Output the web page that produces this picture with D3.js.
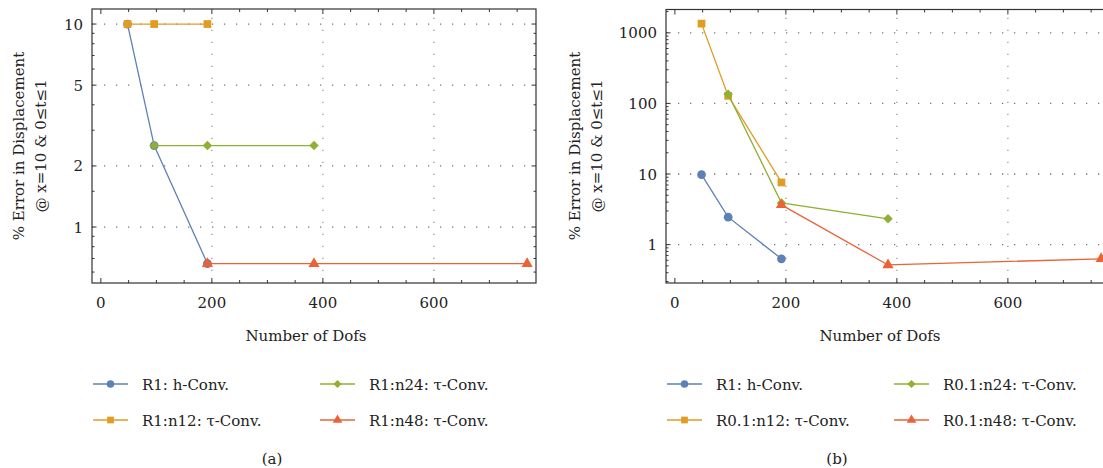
<!DOCTYPE html>
<html>
<head>
<meta charset="utf-8">
<script src="https://cdn.jsdelivr.net/npm/d3@7"></script>
<style>
  body { margin: 0; background: #fff; }
</style>
</head>
<body>
<div id="chart"></div>
<script>
// data
var dofsMajor = [0, 200, 400, 600];
var dofsMinor = d3.range(0, 800, 50);

var colors = ["#5E81B5", "#E19C24", "#8FB032", "#EB6235"];
var shapes = ["circle", "square", "diamond", "triangle"];

// panel (a)
var aHConvX = [48, 96, 192],  aHConvY = [10, 2.52, 0.66];
var aN12X   = [48, 96, 192],  aN12Y   = [10, 10, 10];
var aN24X   = [96, 192, 384], aN24Y   = [2.52, 2.52, 2.52];
var aN48X   = [192, 384, 768], aN48Y  = [0.66, 0.66, 0.66];
var aLegend = ["R1: h-Conv.", "R1:n12: \u03c4-Conv.", "R1:n24: \u03c4-Conv.", "R1:n48: \u03c4-Conv."];
var aYMajor = [1, 2, 5, 10];
var aYMinor = [0.6, 0.7, 0.8, 0.9, 1.5, 3, 4, 6, 7, 8, 9];

// panel (b)
var bHConvX = [48, 96, 192],  bHConvY = [9.8, 2.45, 0.63];
var bN12X   = [48, 96, 192],  bN12Y   = [1350, 128, 7.6];
var bN24X   = [96, 192, 384], bN24Y   = [135, 3.9, 2.32];
var bN48X   = [192, 384, 768], bN48Y  = [3.66, 0.515, 0.63];
var bLegend = ["R1: h-Conv.", "R0.1:n12: \u03c4-Conv.", "R0.1:n24: \u03c4-Conv.", "R0.1:n48: \u03c4-Conv."];
var bYMajor = [1, 10, 100, 1000];
var bYMinor = [];
[0.1, 1, 10, 100, 1000].forEach(function(d) {
  d3.range(2, 10).forEach(function(k) { bYMinor.push(d * k); });
});

var FONT = "DejaVu Serif";
var FS = 15;

var svg = d3.select("#chart").append("svg")
  .attr("width", 1103)
  .attr("height", 468)
  .style("font-family", FONT);

function zip(xs, ys) { return xs.map(function(v, i) { return {x: v, y: ys[i]}; }); }

function marker(shape, size) {
  if (shape == "circle") return d3.symbol().type(d3.symbolCircle).size(size)();
  if (shape == "square") return d3.symbol().type(d3.symbolSquare).size(size)();
  if (shape == "diamond") return d3.symbol().type(d3.symbolSquare).size(size * 0.75)();
  return d3.symbol().type(d3.symbolTriangle).size(size * 0.9)();
}

function label(sel) {
  return sel.style("font-family", FONT).attr("fill", "#222");
}

function drawPanel(opt) {
  var g = svg.append("g");
  var x = d3.scaleLinear().domain([-16, 784]).range([opt.left, opt.left + 444]);
  var y = d3.scaleLog().domain(opt.yDomain).range([283, opt.top]);
  var x0 = x.range()[0], x1 = x.range()[1];
  var y0 = 283, y1 = opt.top;

  // dotted grid
  g.append("g").selectAll("line").data(dofsMajor.filter(function(d) { return d > 0; }))
    .enter().append("line")
    .attr("x1", function(d) { return x(d); }).attr("x2", function(d) { return x(d); })
    .attr("y1", y0).attr("y2", y1)
    .attr("stroke", "#999").attr("stroke-width", 1.3)
    .attr("stroke-dasharray", "1.3,10.7");
  g.append("g").selectAll("line").data(opt.yMajor)
    .enter().append("line")
    .attr("x1", x0).attr("x2", x1)
    .attr("y1", function(d) { return y(d); }).attr("y2", function(d) { return y(d); })
    .attr("stroke", "#777").attr("stroke-width", 1.3)
    .attr("stroke-dasharray", "1.3,10.7");

  // frame
  g.append("rect")
    .attr("x", x0).attr("y", y1)
    .attr("width", x1 - x0).attr("height", y0 - y1)
    .attr("fill", "none").attr("stroke", "#333").attr("stroke-width", 1.2);

  // ticks, all pointing inward
  function ticksX(vals, len) {
    [y0, y1].forEach(function(yy, k) {
      g.append("g").selectAll("line").data(vals).enter().append("line")
        .attr("x1", function(d) { return x(d); }).attr("x2", function(d) { return x(d); })
        .attr("y1", yy).attr("y2", k == 0 ? yy - len : yy + len)
        .attr("stroke", "#333").attr("stroke-width", 1);
    });
  }
  function ticksY(vals, len) {
    [x0, x1].forEach(function(xx, k) {
      g.append("g").selectAll("line").data(vals.filter(function(d) {
          return d >= opt.yDomain[0] && d <= opt.yDomain[1]; }))
        .enter().append("line")
        .attr("y1", function(d) { return y(d); }).attr("y2", function(d) { return y(d); })
        .attr("x1", xx).attr("x2", k == 0 ? xx + len : xx - len)
        .attr("stroke", "#333").attr("stroke-width", 1);
    });
  }
  ticksX(dofsMinor.filter(function(d) { return d % 200 != 0; }), 3);
  ticksX(dofsMajor, 5);
  ticksY(opt.yMinor, 2.5);
  ticksY(opt.yMajor, 4.5);

  // tick labels
  label(g.append("g").selectAll("text").data(dofsMajor).enter().append("text"))
    .attr("x", function(d) { return x(d); }).attr("y", 308)
    .attr("text-anchor", "middle").attr("font-size", FS)
    .text(function(d) { return d; });
  label(g.append("g").selectAll("text").data(opt.yMajor).enter().append("text"))
    .attr("x", opt.left - 9).attr("y", function(d) { return y(d) + 5.5; })
    .attr("text-anchor", "end").attr("font-size", FS)
    .text(function(d) { return d; });

  // axis titles
  label(g.append("text"))
    .attr("x", (x0 + x1) / 2 - 8).attr("y", 341)
    .attr("text-anchor", "middle").attr("font-size", FS)
    .text("Number of Dofs");
  var yt = label(g.append("text"))
    .attr("transform", "translate(" + opt.yTitleX + "," + 146 + ") rotate(-90)")
    .attr("text-anchor", "middle").attr("font-size", FS);
  yt.append("tspan").attr("x", 0).attr("dy", 0).text("% Error in Displacement");
  yt.append("tspan").attr("x", 0).attr("dy", 22).text("@ x=10 & 0\u2264t\u22641");

  // series
  var line = d3.line().x(function(d) { return x(d.x); }).y(function(d) { return y(d.y); });
  opt.series.forEach(function(s, i) {
    var pts = zip(s[0], s[1]);
    g.append("path").datum(pts)
      .attr("d", line).attr("fill", "none")
      .attr("stroke", colors[i]).attr("stroke-width", 1.3);
    g.append("g").selectAll("path").data(pts).enter().append("path")
      .attr("transform", function(d) {
        return "translate(" + x(d.x) + "," + y(d.y) + ")" + (shapes[i] == "diamond" ? " rotate(45)" : "");
      })
      .attr("d", marker(shapes[i], 60))
      .attr("fill", colors[i]);
  });

  // legend, two columns
  var lx = [opt.left + 1, opt.left + 228];
  var ly = [384, 420];
  opt.legend.forEach(function(name, i) {
    var col = i < 2 ? 0 : 1, row = i % 2;
    var lg = g.append("g").attr("transform", "translate(" + lx[col] + "," + ly[row] + ")");
    lg.append("line").attr("x1", 0).attr("x2", 35).attr("y1", 0).attr("y2", 0)
      .attr("stroke", colors[i]).attr("stroke-width", 1.3);
    lg.append("path")
      .attr("transform", "translate(17.5,0)" + (shapes[i] == "diamond" ? " rotate(45)" : ""))
      .attr("d", marker(shapes[i], 45)).attr("fill", colors[i]);
    label(lg.append("text")).attr("x", 49).attr("y", 6)
      .attr("font-size", FS).text(name);
  });

  label(g.append("text"))
    .attr("x", opt.caption).attr("y", 464)
    .attr("text-anchor", "middle").attr("font-size", FS)
    .text(opt.tag);
}

drawPanel({
  left: 92, top: 9, yDomain: [0.53, 11.86],
  yMajor: aYMajor, yMinor: aYMinor, yTitleX: 24,
  series: [[aHConvX, aHConvY], [aN12X, aN12Y], [aN24X, aN24Y], [aN48X, aN48Y]],
  legend: aLegend, caption: 272, tag: "(a)"
});
drawPanel({
  left: 666, top: 9.5, yDomain: [0.286, 2140],
  yMajor: bYMajor, yMinor: bYMinor, yTitleX: 580,
  series: [[bHConvX, bHConvY], [bN12X, bN12Y], [bN24X, bN24Y], [bN48X, bN48Y]],
  legend: bLegend, caption: 837, tag: "(b)"
});
</script>
</body>
</html>
